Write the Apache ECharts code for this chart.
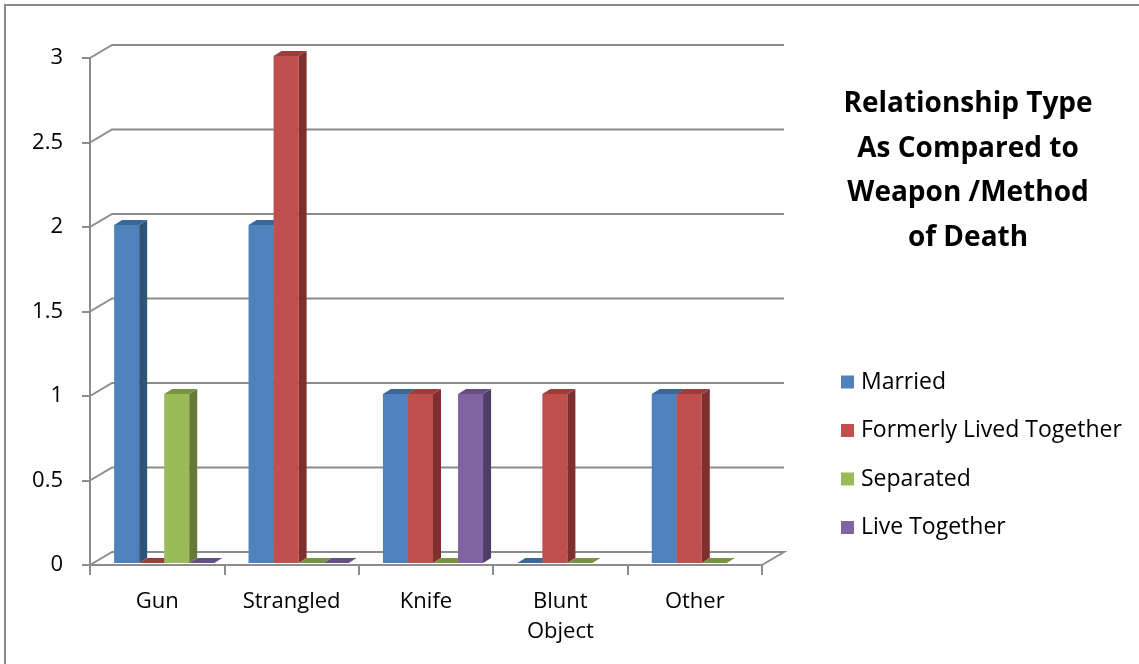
<!DOCTYPE html>
<html>
<head>
<meta charset="utf-8">
<script src="https://cdn.jsdelivr.net/npm/echarts@6/dist/echarts.min.js"></script>
<style>
  html, body { margin: 0; padding: 0; background: #fff; }
  #chart { width: 1139px; height: 664px; }
</style>
</head>
<body>
<div id="chart"></div>
<script>
// data
var categories = ['Gun', 'Strangled', 'Knife', 'Blunt\nObject', 'Other'];
var seriesNames = ['Married', 'Formerly Lived Together', 'Separated', 'Live Together'];
var married = [2, 2, 1, 0, 1];
var formerlyLivedTogether = [0, 3, 1, 1, 1];
var separated = [1, 0, 0, 0, 0];
var liveTogether = [0, 0, 1, null, null];
var yTicks = [0, 0.5, 1, 1.5, 2, 2.5, 3];

var seriesValues = [married, formerlyLivedTogether, separated, liveTogether];

/* colours: front, side, top */
var faceColors = [
    ['#4f81bd', '#2f5277', '#3b6798'],
    ['#c0504d', '#7f302e', '#9b3d3b'],
    ['#9bbb59', '#657a36', '#77933d'],
    ['#8064a2', '#4f3d67', '#644e82']
];
var DEPTH_X = 22, DEPTH_Y = -13;   // back wall offset
var BAR_DX = 8, BAR_DY = -5;       // bar depth
var SHIFT_X = 7, SHIFT_Y = -2;     // bars sit mid-depth
var BAR_SHARE = 0.745;
var AXIS_COLOR = '#8c8c8c';
var FONT = 'Open Sans';

var chart = echarts.init(document.getElementById('chart'));

function renderFrame(params, api) {
    var cs = params.coordSys;
    var t = api.value(1);
    var y = api.coord([0, t])[1];
    var x0 = cs.x, x1 = cs.x + cs.width;
    var pts = [[x0, y], [x0 + DEPTH_X, y + DEPTH_Y], [x1 + DEPTH_X, y + DEPTH_Y]];
    if (t === 0) pts.push([x1, y]);
    return {
        type: 'polyline',
        shape: { points: pts },
        style: { stroke: AXIS_COLOR, lineWidth: 2, fill: null }
    };
}

function renderBar(params, api) {
    var v = api.value(1);
    if (v == null || isNaN(v)) return;
    var cat = api.value(0);
    var n = seriesValues.length;
    var band = api.size([1, 0])[0];
    var w = band * BAR_SHARE / n;
    var base = api.coord([cat, 0]);
    var top = api.coord([cat, v]);
    var si = params.seriesIndex - 1;
    var x = base[0] - w * n / 2 + si * w + SHIFT_X;
    var yb = base[1] + SHIFT_Y, yt = top[1] + SHIFT_Y;
    var c = faceColors[si];
    var children = [];
    if (yb - yt > 0) {
        children.push({
            type: 'rect',
            shape: { x: x, y: yt, width: w, height: yb - yt },
            style: { fill: c[0] }
        });
        children.push({
            type: 'polygon',
            shape: { points: [[x + w, yt], [x + w + BAR_DX, yt + BAR_DY], [x + w + BAR_DX, yb + BAR_DY], [x + w, yb]] },
            style: { fill: c[1] }
        });
    }
    children.push({
        type: 'polygon',
        shape: { points: [[x, yt], [x + BAR_DX, yt + BAR_DY], [x + w + BAR_DX, yt + BAR_DY], [x + w, yt]] },
        style: { fill: c[2] }
    });
    return { type: 'group', children: children };
}

var series = [{
    type: 'custom',
    name: 'frame',
    renderItem: renderFrame,
    data: yTicks.map(function (t) { return [0, t]; }),
    encode: { x: 0, y: 1 },
    silent: true,
    z: 1
}];
seriesValues.forEach(function (vals, i) {
    series.push({
        type: 'custom',
        name: seriesNames[i],
        renderItem: renderBar,
        itemStyle: { color: faceColors[i][0] },
        data: vals.map(function (v, k) { return [k, v == null ? NaN : v]; }),
        encode: { x: 0, y: 1 },
        z: 3
    });
});

var option = {
    animation: false,
    textStyle: { fontFamily: FONT, color: '#000' },
    graphic: [{
        type: 'rect',
        shape: { x: 5, y: 5, width: 1200, height: 700 },
        style: { fill: null, stroke: '#8a8a8a', lineWidth: 2 },
        z: 0
    }, {
        type: 'text',
        x: 968,
        y: 82,
        style: {
            text: 'Relationship Type\nAs Compared to\nWeapon /Method\nof Death',
            textAlign: 'center',
            textVerticalAlign: 'top',
            fontFamily: FONT,
            fontWeight: 'bold',
            fontSize: 28,
            lineHeight: 44.5,
            fill: '#000'
        }
    }],
    legend: {
        data: seriesNames,
        orient: 'vertical',
        left: 836,
        top: 364,
        icon: 'rect',
        itemWidth: 13,
        itemHeight: 13,
        itemGap: 22.5,
        textStyle: { fontFamily: FONT, fontSize: 23, lineHeight: 26, color: '#000', padding: [0, 0, 0, 2] }
    },
    grid: { left: 90, right: 377, top: 58, bottom: 99 },
    xAxis: {
        type: 'category',
        data: categories,
        axisLine: { lineStyle: { color: AXIS_COLOR, width: 2 } },
        axisTick: { show: true, length: 10, lineStyle: { color: AXIS_COLOR, width: 2 } },
        axisLabel: { fontFamily: FONT, fontSize: 22, lineHeight: 30, color: '#000', margin: 22 }
    },
    yAxis: {
        type: 'value',
        min: 0,
        max: 3,
        interval: 0.5,
        axisLine: { show: true, lineStyle: { color: AXIS_COLOR, width: 2 } },
        axisTick: { show: true, length: 8, lineStyle: { color: AXIS_COLOR, width: 2 } },
        splitLine: { show: false },
        axisLabel: { fontFamily: FONT, fontSize: 22, color: '#000', margin: 27 }
    },
    series: series
};
chart.setOption(option);
window.addEventListener('resize', function () { chart.resize(); });
</script>
</body>
</html>
